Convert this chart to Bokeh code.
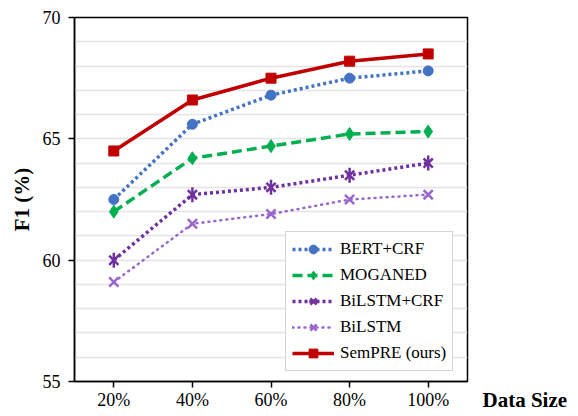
import math
from bokeh.plotting import figure
from bokeh.layouts import row
from bokeh.models import FixedTicker
from bokeh.embed import file_html
from bokeh.resources import INLINE

categories = ["20%", "40%", "60%", "80%", "100%"]
bert_crf = [62.5, 65.6, 66.8, 67.5, 67.8]
moganed = [62.0, 64.2, 64.7, 65.2, 65.3]
bilstm_crf = [60.0, 62.7, 63.0, 63.5, 64.0]
bilstm = [59.1, 61.5, 61.9, 62.5, 62.7]
sempre = [64.5, 66.6, 67.5, 68.2, 68.5]
y_ticks = [55, 60, 65, 70]
grid_ticks = list(range(55, 71))
x_title = "Data Size"

xs = list(range(len(categories)))

FONT = "Liberation Serif"

p = figure(width=478, height=416, output_backend="svg", toolbar_location=None,
           x_range=(-0.5, 4.5), y_range=(55, 70),
           min_border_left=74, min_border_right=11, min_border_top=17, min_border_bottom=35)

p.outline_line_color = "black"
p.outline_line_width = 1.5
p.xgrid.visible = False
p.ygrid.ticker = FixedTicker(ticks=grid_ticks)
p.ygrid.grid_line_color = "#e4e4e4"
p.ygrid.grid_line_width = 1.5

p.yaxis.ticker = FixedTicker(ticks=y_ticks)
p.xaxis.ticker = FixedTicker(ticks=xs)
p.xaxis.major_label_overrides = {i: c for i, c in enumerate(categories)}
for ax in (p.xaxis[0], p.yaxis[0]):
    ax.axis_line_color = "black"
    ax.axis_line_width = 1.5
    ax.major_tick_line_color = "black"
    ax.major_tick_line_width = 1.5
    ax.major_tick_out = 6
    ax.major_tick_in = 0
    ax.minor_tick_line_color = None
    ax.major_label_text_font = FONT
    ax.major_label_text_font_size = "18px"
    ax.major_label_text_color = "black"
p.yaxis.major_label_standoff = 8
p.xaxis.major_label_standoff = 2
p.yaxis.axis_label = "F1 (%)"
p.yaxis.axis_label_text_font = FONT
p.yaxis.axis_label_text_font_style = "bold"
p.yaxis.axis_label_text_font_size = "21px"
p.yaxis.axis_label_text_color = "black"
p.yaxis.axis_label_standoff = 6

series = [
    ("BERT+CRF", bert_crf, "#4472C4", "3 3", 3.5, "butt", "circle", 10),
    ("MOGANED", moganed, "#00B050", "10 5", 3.5, "butt", "diamond", 13),
    ("BiLSTM+CRF", bilstm_crf, "#7030A0", "3 3", 3.5, "butt", "x", 13),
    ("BiLSTM", bilstm, "#9966CC", "1 5", 2.5, "round", "x", 13),
    ("SemPRE (ours)", sempre, "#C00000", "solid", 3.5, "butt", "square", 10),
]

for name, ys, color, dash, lw, cap, marker, size in series:
    p.line(xs, ys, line_color=color, line_width=lw, line_dash=dash, line_cap=cap,
           legend_label=name)
    p.scatter(xs, ys, marker=marker, size=size, fill_color=color, line_color=color,
              line_width=2.5 if marker == "x" else 1, legend_label=name)
    if name == "BiLSTM+CRF":
        p.scatter(xs, ys, marker="dash", angle=math.pi / 2, size=15,
                  line_color=color, line_width=2.5, legend_label=name)

legend = p.legend[0]
legend.location = (211, 10)
legend.label_text_font = FONT
legend.label_text_font_style = "normal"
legend.label_text_font_size = "17px"
legend.label_text_color = "black"
legend.border_line_color = "#a6a6a6"
legend.border_line_width = 1.5
legend.background_fill_color = "white"
legend.background_fill_alpha = 1
legend.glyph_width = 42
legend.glyph_height = 22
legend.label_height = 22
legend.spacing = 4
legend.padding = 6
legend.label_standoff = 6
legend.margin = 0

# side panel holding the x-axis title to the right of the axis
p2 = figure(width=100, height=416, output_backend="svg", toolbar_location=None,
            x_range=(0, 100), y_range=(0, 416), min_border=0,
            x_axis_type=None, y_axis_type=None, frame_align=False)
p2.grid.visible = False
p2.outline_line_color = None
p2.text(x=[4], y=[17], text=[x_title], text_font=FONT, text_font_style="bold",
        text_font_size="21px", text_baseline="middle", text_align="left", text_color="black")

layout = row(p, p2, spacing=0)
open("out.html", "w").write(file_html(layout, INLINE))
